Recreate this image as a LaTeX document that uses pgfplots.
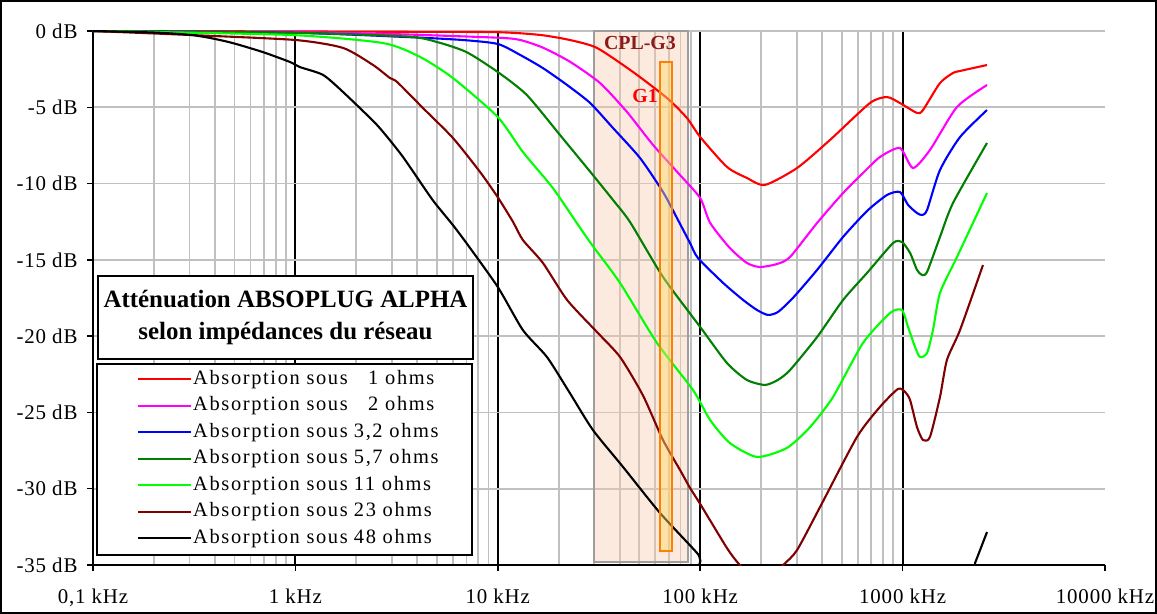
\documentclass[border=0pt]{standalone}
\usepackage{fontspec}
\setmainfont{Liberation Serif}
\newfontfamily\legfont[LetterSpace=8]{Liberation Serif}
\newfontfamily\tickfont[LetterSpace=4]{Liberation Serif}
\usepackage{pgfplots}
\pgfplotsset{compat=1.18}
\usetikzlibrary{calc}
\definecolor{cOne}{HTML}{FF0000}
\definecolor{cTwo}{HTML}{FF00FF}
\definecolor{cThree}{HTML}{0000FF}
\definecolor{cFive}{HTML}{007F00}
\definecolor{cEleven}{HTML}{00FF00}
\definecolor{cTwentyThree}{HTML}{7F0000}
\definecolor{cgThree}{HTML}{8B1A1A}
\definecolor{cplfill}{HTML}{F8CBAD}
\definecolor{gOneEdge}{HTML}{FF7F00}
\definecolor{gOneFill}{HTML}{FFD966}
\definecolor{gridgray}{HTML}{C0C0C0}

\begin{document}
\begin{tikzpicture}
\begin{axis}[
  scale only axis,
  width=1012bp, height=534bp,
  xmode=log,
  xmin=0.1, xmax=10000,
  ymin=-35, ymax=0,
  axis x line*=bottom,
  axis y line*=left,
  axis line style={black, line width=2bp},
  xtick={0.1,1,10,100,1000},
  xticklabels={{0,1 kHz},{1 kHz},{10 kHz},{100 kHz},{1000 kHz}},
  extra x ticks={10000},
  extra x tick labels={{10000 kHz}},
  extra x tick style={grid=none},
  ytick={-35,-30,-25,-20,-15,-10,-5,0},
  yticklabels={{-35 dB},{-30 dB},{-25 dB},{-20 dB},{-15 dB},{-10 dB},{-5 dB},{0 dB}},
  tick align=outside,
  major tick length=6bp,
  minor tick length=0pt,
  tick style={black, line width=1.5bp},
  xmajorgrids, xminorgrids, ymajorgrids,
  major x grid style={black, line width=1.8bp},
  minor x grid style={gridgray, line width=1.8bp},
  major y grid style={gridgray, line width=1.8bp},
  ticklabel style={font=\tickfont\fontsize{21}{25}\selectfont},
  yticklabel style={xshift=-6bp},
  xticklabel style={yshift=-14bp},
  every axis plot/.append style={line width=2.1bp, line join=round, mark=none, smooth, tension=0.4},
  legend style={at={(rel axis cs:0.0435,0.367)}, anchor=north west,
    draw=none, fill=none, inner sep=0pt,
    font=\legfont\fontsize{20.5}{23}\selectfont,
    nodes={inner sep=1bp, text height=14bp, text depth=4bp},
    row sep=6.5bp,
    /tikz/every even column/.append style={column sep=8bp}},
  legend image code/.code={\draw[#1, line width=2bp, sharp plot] (0bp,0bp) -- (53bp,0bp);},
  legend cell align=left,
]
% CPL-G3 band
\fill[cplfill, fill opacity=0.4] (axis cs:30,0) rectangle (axis cs:87,-34.8);
\draw[black!38, line width=2bp] (axis cs:30,0) rectangle (axis cs:87,-34.8);

\addplot[cOne] coordinates {
 (0.1,0) (0.3,-0.01) (1,-0.03) (3,-0.05) (10,-0.08) (16.2,-0.26) (22.7,-0.59)
 (30.9,-1.11) (46.6,-2.69) (68.5,-4.39) (86,-5.70) (100,-6.95) (135.6,-8.91)
 (170,-9.63) (209,-10.09) (301,-8.98) (438,-7.14) (690,-4.72) (837,-4.33)
 (970,-4.72) (1178,-5.37) (1261,-5.18) (1530,-3.41) (1775,-2.75) (1922,-2.62)
 (2612,-2.23)};
\addlegendentry{Absorption sous\hspace{1.0em}1 ohms}
\addplot[cTwo] coordinates {
 (0.1,0) (1,-0.08) (3,-0.2) (10,-0.44) (12.9,-0.59) (16.7,-1.09) (22.7,-2.01)
 (32,-3.41) (43.5,-5.31) (58.5,-7.47) (79.5,-9.44) (100,-10.95) (112,-12.58)
 (140,-14.22) (170,-15.2) (197,-15.47) (240,-15.27) (278,-14.81) (378,-12.58)
 (508,-10.62) (637,-9.31) (773,-8.26) (970,-7.67) (1125,-8.98) (1365,-7.80)
 (1857,-4.98) (2612,-3.54)};
\addlegendentry{Absorption sous\hspace{1.0em}2 ohms}
\addplot[cThree] coordinates {
 (0.1,0) (1,-0.12) (3.6,-0.4) (6.7,-0.59) (10,-0.85) (12.9,-1.57) (16.7,-2.43)
 (22,-3.54) (28.6,-4.72) (37.1,-6.36) (50.4,-8.32) (65.5,-10.55) (76.8,-12.26)
 (89.1,-13.9) (97.5,-14.88) (130,-16.52) (163,-17.63) (191,-18.29) (216,-18.61)
 (242,-18.42) (287,-17.5) (378,-15.66) (508,-13.5) (667,-11.8) (837,-10.75)
 (970,-10.55) (1064,-11.4) (1178,-11.93) (1247,-12.06) (1321,-11.73)
 (1530,-9.11) (1922,-6.95) (2612,-5.18)};
\addlegendentry{Absorption sous\hspace{0.3em}3,2 ohms}
\addplot[cFive] coordinates {
 (0.1,0) (1,-0.12) (3.6,-0.37) (5,-0.72) (7,-1.38) (10,-2.69) (13.9,-4.19)
 (20.3,-6.82) (29.5,-9.44) (37.1,-11.08) (45,-12.52) (65.5,-16.12) (100,-19.4)
 (135.6,-21.76) (170,-22.87) (209,-23.2) (242,-22.87) (278,-22.22) (378,-20.06)
 (508,-17.63) (667,-15.86) (897,-13.9) (993,-13.83) (1089,-14.55) (1178,-15.66)
 (1247,-15.99) (1321,-15.79) (1530,-13.5) (1775,-11.27) (2612,-7.34)};
\addlegendentry{Absorption sous\hspace{0.3em}5,7 ohms}
\addplot[cEleven] coordinates {
 (0.1,0) (0.94,-0.26) (2.71,-0.79) (4.13,-1.70) (6,-3.08) (10,-5.64) (13.3,-7.93)
 (18.7,-10.29) (25.5,-12.9) (29.5,-14.1) (40.2,-16.52) (61.2,-20.45) (92.1,-23.53)
 (112,-25.5) (140,-27.0) (191,-27.92) (268,-27.33) (349,-25.96) (453,-23.99)
 (637,-20.45) (867,-18.48) (993,-18.29) (1064,-19.4) (1152,-20.71) (1219,-21.37)
 (1321,-21.1) (1413,-19.6) (1530,-17.17) (1857,-14.81) (2612,-10.62)};
\addlegendentry{Absorption sous\hspace{0.3em}11 ohms}
\addplot[cTwentyThree] coordinates {
 (0.1,0) (0.3,-0.26) (1,-0.59) (1.72,-1.11) (2.42,-2.23) (2.93,-3.08) (3.18,-3.34)
 (4.27,-5.05) (6,-7.01) (8.17,-9.24) (10,-10.9) (11.9,-12.52) (13.3,-13.7)
 (16.7,-15.2) (22,-17.63) (30.9,-19.73) (40.2,-21.37) (52.2,-23.9) (65.5,-26.81)
 (79.5,-28.77) (89.1,-29.95) (100,-31.0) (135.6,-33.89) (157,-35) (200,-36.3)
 (257,-35) (301,-34.02) (391,-31.2) (595,-26.61) (773,-24.64) (949,-23.46)
 (1028,-23.66) (1089,-24.19) (1178,-25.96) (1261,-26.81) (1365,-26.61)
 (1530,-23.99) (1656,-21.56) (1922,-19.6) (2495,-15.34)};
\addlegendentry{Absorption sous\hspace{0.3em}23 ohms}
\addplot[black] coordinates {
 (0.1,0) (0.2,-0.1) (0.3,-0.25) (0.38,-0.46) (0.49,-0.79) (0.69,-1.38)
 (0.94,-2.03) (1.05,-2.36) (1.37,-2.88) (1.72,-4.0) (2.53,-6.16) (3.29,-8.0)
 (3.81,-9.2) (4.78,-11.1) (6,-12.72) (7,-13.9) (10,-16.78) (13.3,-19.6)
 (17.5,-21.37) (22.7,-23.73) (29.5,-26.15) (41.6,-28.58) (63.3,-31.59)
 (96.4,-34.21) (100,-34.67) (120,-36) (2100,-36) (2280,-34.87) (2612,-32.84)};
\addlegendentry{Absorption sous\hspace{0.3em}48 ohms}

% G1 band
\draw[gOneEdge, line width=2bp, fill=gOneFill, fill opacity=0.45]
  (axis cs:63.3,-2) rectangle (axis cs:72.5,-34.1);
\node[cgThree, font=\bfseries\fontsize{20}{24}\selectfont] at (axis cs:50.4,-0.8) {CPL-G3};
\node[cOne, font=\bfseries\fontsize{20}{24}\selectfont] at (axis cs:53.4,-4.26) {G1};

% title and legend boxes
\node[draw=black, line width=2bp, fill=white, minimum width=375bp, minimum height=83bp,
  anchor=north west, align=center, inner sep=0pt,
  font=\bfseries\fontsize{25}{32}\selectfont]
  at (rel axis cs:0.00395,0.543) {Atténuation ABSOPLUG ALPHA\\selon impédances du réseau};
\draw[black, line width=2bp, fill=white] (rel axis cs:0.00395,0.3764) rectangle (rel axis cs:0.3745,0.0187);
\end{axis}
\pgfresetboundingbox
\path[use as bounding box] ($(current axis.south west)+(-93bp,-49bp)$) rectangle ($(current axis.north east)+(52bp,31bp)$);
\draw[black, line width=2bp] ($(current axis.south west)+(-92bp,-48bp)$) rectangle ($(current axis.north east)+(51bp,30bp)$);
\end{tikzpicture}
\end{document}
